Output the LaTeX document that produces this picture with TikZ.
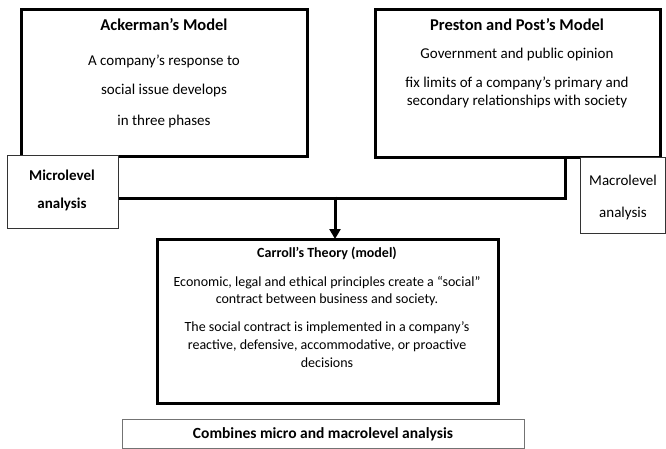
\documentclass[tikz,border=0pt]{standalone}
\usepackage{fontspec}
\setmainfont{Carlito}
\usetikzlibrary{arrows.meta}
\begin{document}
\begin{tikzpicture}[x=1pt,y=-1pt,
  bigbox/.style={draw=black,line width=3pt,fill=white},
  smallbox/.style={draw=black!80,line width=0.9pt,fill=white},
  txt/.style={inner sep=0pt,anchor=base},
  conn/.style={line width=3pt},
  ttl/.style={txt,font=\fontsize{16.5}{19}\selectfont\bfseries},
  body/.style={txt,font=\fontsize{15}{18}\selectfont},
  cbody/.style={txt,font=\fontsize{14}{17}\selectfont},
]
\useasboundingbox (0,0) rectangle (666,448);
% boxes
\draw[bigbox] (21,9) rectangle (307,156);
\draw[bigbox] (375,9) rectangle (660,157);
\draw[bigbox] (157,239) rectangle (498,403);
\node[coordinate] (car) at (327,239) {};
% connectors
\coordinate (j) at (335,198);
\coordinate (mcr) at (118,198);
\coordinate (pb) at (565,157);
\draw[conn] (mcr) -- (j);
\draw[conn] (pb) |- (j);
\draw[conn,-{Triangle[length=10pt,width=11pt]}] (335,196.5) -- (car -| j);
% small boxes
\node[smallbox,minimum width=111pt,minimum height=73pt,anchor=north west] (micro) at (7,155) {};
\node[smallbox,minimum width=85pt,minimum height=76pt,anchor=north west] (macro) at (580,157) {};
\node[draw=black!55,line width=1pt,fill=white,minimum width=402pt,minimum height=29pt,anchor=north west] (comb) at (122,419) {};
% texts
\node[ttl] (t1) at (164,30) {Ackerman’s Model};
\node[body] (t2) at (164,65) {A company’s response to};
\node[body] (t3) at (164,94) {social issue develops};
\node[body] (t4) at (164,125) {in three phases};
\node[ttl] (p1) at (517,30) {Preston and Post’s Model};
\node[body] (p2) at (517,58) {Government and public opinion};
\node[body] (p3) at (517,87) {fix limits of a company’s primary and};
\node[body] (p4) at (517,105) {secondary relationships with society};
\node[body,font=\fontsize{15}{18}\selectfont\bfseries] (m1) at (62,180) {Microlevel};
\node[body,font=\fontsize{15}{18}\selectfont\bfseries] (m2) at (62,208) {analysis};
\node[body] (n1) at (623,185) {Macrolevel};
\node[body] (n2) at (623,217) {analysis};
\node[cbody,font=\fontsize{14}{17}\selectfont\bfseries] (c1) at (327,257) {Carroll’s Theory (model)};
\node[cbody] (c2) at (327,286) {Economic, legal and ethical principles create a “social”};
\node[cbody] (c3) at (327,303) {contract between business and society.};
\node[cbody] (c4) at (327,331) {The social contract is implemented in a company’s};
\node[cbody] (c5) at (327,349) {reactive, defensive, accommodative, or proactive};
\node[cbody] (c6) at (327,367) {decisions};
\node[txt,font=\fontsize{15.5}{18}\selectfont\bfseries] (k1) at (323,438) {Combines micro and macrolevel analysis};
\end{tikzpicture}
\end{document}
